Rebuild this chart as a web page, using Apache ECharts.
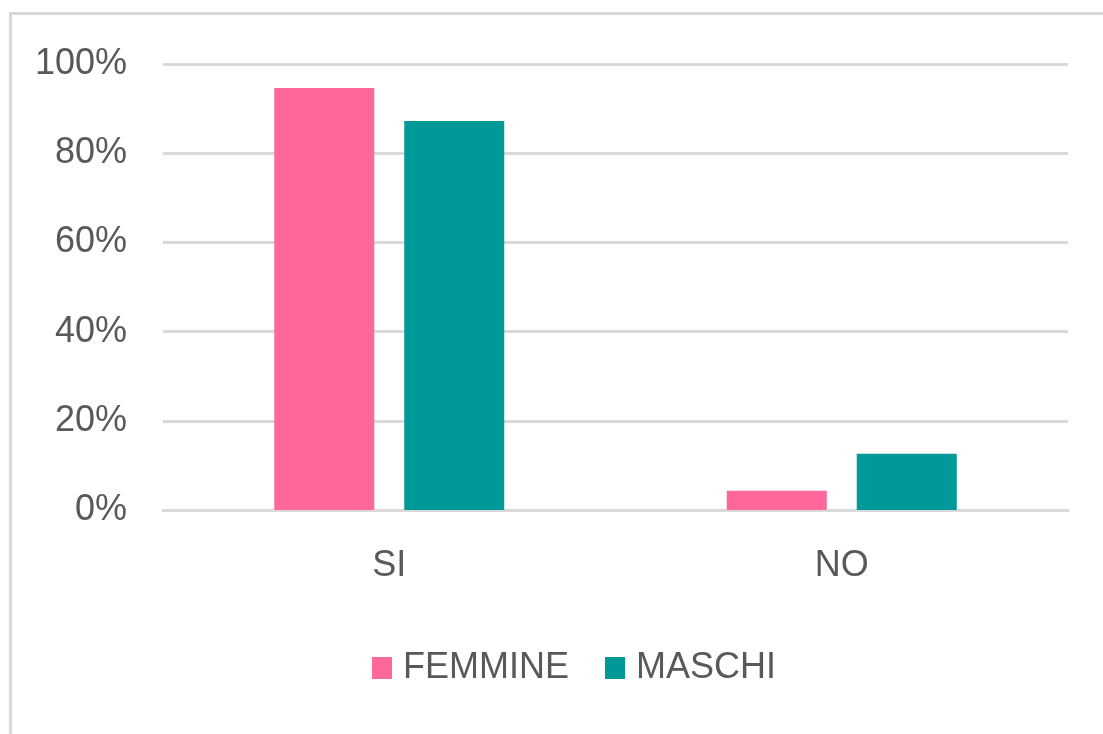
<!DOCTYPE html>
<html>
<head>
<meta charset="utf-8">
<style>
  html, body { margin: 0; padding: 0; background: #fff; }
  #frame { position: absolute; left: 9px; top: 12px; width: 1094px; height: 722px;
           border-top: 3px solid #d9d9d9; border-left: 3px solid #d9d9d9; box-sizing: border-box; }
  #chart { position: absolute; left: 0; top: 0; width: 1103px; height: 734px; }
</style>
<script src="https://cdn.jsdelivr.net/npm/echarts@6/dist/echarts.min.js"></script>
</head>
<body>
<div id="frame"></div>
<div id="chart"></div>
<script>
  const categories = ['SI', 'NO'];
  const femmine = [94.6, 4.3];
  const maschi = [87.2, 12.6];
  const yTicks = [0, 20, 40, 60, 80, 100];

  const font = '"Liberation Sans", Arial, sans-serif';
  const textColor = '#595959';

  var myChart = echarts.init(document.getElementById('chart'));
  var option = {
    backgroundColor: 'transparent',
    animation: false,
    grid: { left: 163, right: 35, top: 64, bottom: 224 },
    legend: {
      left: 367,
      top: 645,
      itemWidth: 20,
      itemHeight: 22,
      itemGap: 36,
      icon: 'rect',
      textStyle: { fontFamily: font, fontSize: 36, color: textColor, padding: [0, 0, 0, 6] },
      data: ['FEMMINE', 'MASCHI']
    },
    xAxis: {
      type: 'category',
      data: categories,
      axisLine: { lineStyle: { color: '#d9d9d9', width: 3 } },
      axisTick: { show: false },
      axisLabel: { fontFamily: font, fontSize: 36, color: textColor, margin: 38 }
    },
    yAxis: {
      type: 'value',
      min: yTicks[0],
      max: yTicks[yTicks.length - 1],
      interval: 20,
      axisLine: { show: false },
      axisTick: { show: false },
      splitLine: { lineStyle: { color: '#d9d9d9', width: 3 } },
      axisLabel: { fontFamily: font, fontSize: 36, color: textColor, margin: 36,
                   formatter: v => v + '%' }
    },
    series: [
      { name: 'FEMMINE', type: 'bar', data: femmine, barWidth: 100, barGap: '30%',
        itemStyle: { color: '#ff6699' } },
      { name: 'MASCHI', type: 'bar', data: maschi, barWidth: 100,
        itemStyle: { color: '#009999' } }
    ]
  };
  option && myChart.setOption(option);
</script>
</body>
</html>
